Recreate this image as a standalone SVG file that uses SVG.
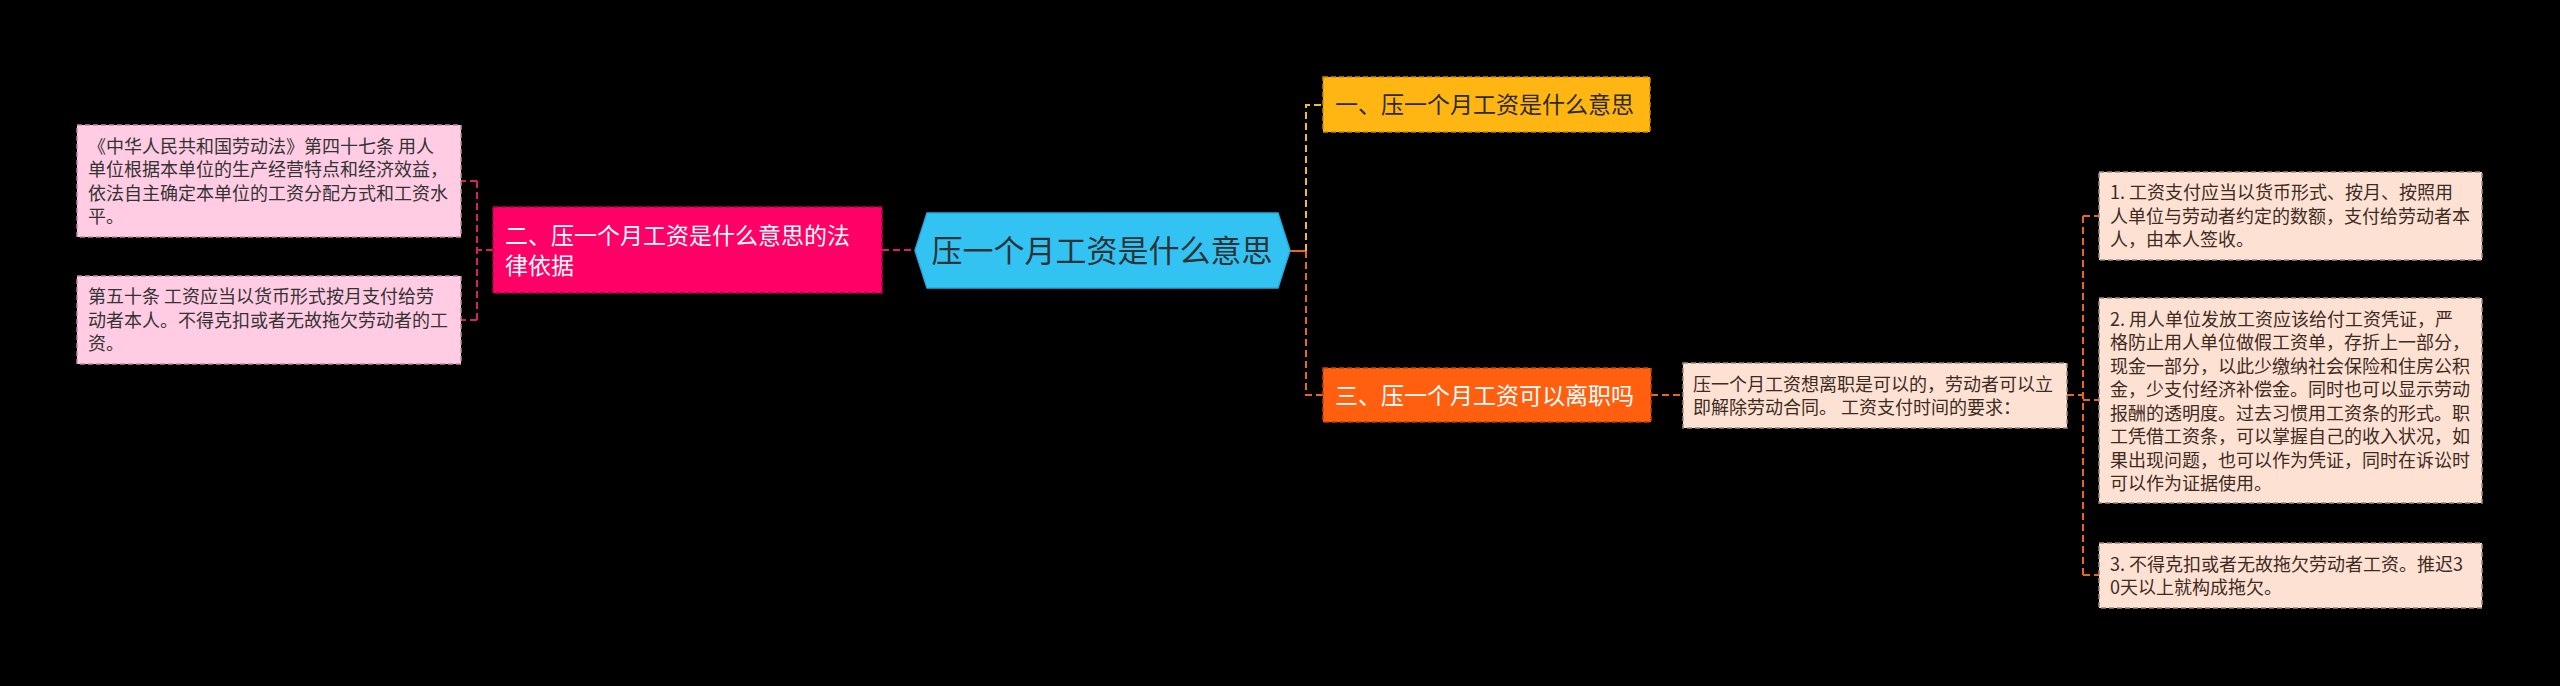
<svg xmlns="http://www.w3.org/2000/svg" width="2560" height="686" viewBox="0 0 2560 686">
<style>
text{font-family:"Noto Sans CJK SC","Microsoft YaHei",sans-serif;}
.t18{font-size:18px;}
.t23{font-size:23px;}
.pink rect{fill:#FFCCE4;stroke:#B98A9E;stroke-width:1.5;stroke-dasharray:5 3;}
.pink text{fill:#333333;}
.peach rect{fill:#FDE2D4;stroke:#9C8A80;stroke-width:1.5;stroke-dasharray:5 3;}
.peach text{fill:#3D2B1F;}
.conn path{fill:none;stroke-width:2;stroke-dasharray:7 4;}
.cm{stroke:#D81E66;}
.cy{stroke:#F2C01E;}
.co{stroke:#E8661E;}
</style>
<rect x="0" y="0" width="2560" height="686" fill="#000000"/>
<g id="connectors" class="conn">
<path class="cm" d="M882,250 L915,250"/>
<path class="cm" d="M493,250 L477,250 M477,181 L477,320 M477,181 L461,181 M477,320 L461,320"/>
<path class="co" d="M1290,251 L1306,251" style="stroke-dasharray:none"/>
<path class="cy" d="M1306,251 L1306,105 L1323,105"/>
<path class="co" d="M1306,251 L1306,395 L1323,395"/>
<path class="co" d="M1651,395 L1683,395"/>
<path class="co" d="M2067,395 L2083,395 M2083,216 L2083,575 M2083,216 L2099,216 M2083,400 L2099,400 M2083,575 L2099,575"/>
</g>
<g id="root">
<polygon points="915,250.5 927,213 1278,213 1290,250.5 1278,288 927,288" fill="#33C3F3" stroke="#2AA9DA" stroke-width="1.5"/>
<text x="1102" y="262" font-size="31" fill="#2E3338" text-anchor="middle">压一个月工资是什么意思</text>
</g>
<g id="n2">
<rect x="493" y="207" width="389" height="86" fill="#FF0066" stroke="#B8004A" stroke-width="1.5" stroke-dasharray="5 3"/>
<text class="t23" x="505" y="244" fill="#FFFFFF">二、压一个月工资是什么意思的法</text>
<text class="t23" x="505" y="274" fill="#FFFFFF">律依据</text>
</g>
<g id="n2a" class="pink">
<rect x="77" y="125" width="384" height="112"/>
<text class="t18" x="88" y="152.5">《中华人民共和国劳动法》第四十七条 用人</text>
<text class="t18" x="88" y="176">单位根据本单位的生产经营特点和经济效益，</text>
<text class="t18" x="88" y="199.5">依法自主确定本单位的工资分配方式和工资水</text>
<text class="t18" x="88" y="223">平。</text>
</g>
<g id="n2b" class="pink">
<rect x="77" y="276" width="384" height="88"/>
<text class="t18" x="88" y="303.3">第五十条 工资应当以货币形式按月支付给劳</text>
<text class="t18" x="88" y="326.8">动者本人。不得克扣或者无故拖欠劳动者的工</text>
<text class="t18" x="88" y="350.3">资。</text>
</g>
<g id="n1">
<rect x="1323" y="77" width="327" height="55" fill="#FFB612" stroke="#C98D00" stroke-width="1.5" stroke-dasharray="5 3"/>
<text class="t23" x="1335" y="113" fill="#2E2A22">一、压一个月工资是什么意思</text>
</g>
<g id="n3">
<rect x="1323" y="368" width="328" height="54" fill="#FF5F0F" stroke="#C44300" stroke-width="1.5" stroke-dasharray="5 3"/>
<text class="t23" x="1335" y="403.5" fill="#FFFFFF">三、压一个月工资可以离职吗</text>
</g>
<g id="n3a" class="peach">
<rect x="1683" y="363" width="384" height="65"/>
<text class="t18" x="1693" y="390.5">压一个月工资想离职是可以的，劳动者可以立</text>
<text class="t18" x="1693" y="414">即解除劳动合同。 工资支付时间的要求：</text>
</g>
<g id="n3a1" class="peach">
<rect x="2099" y="172" width="383" height="88"/>
<text class="t18" x="2110" y="199.3">1. 工资支付应当以货币形式、按月、按照用</text>
<text class="t18" x="2110" y="222.8">人单位与劳动者约定的数额，支付给劳动者本</text>
<text class="t18" x="2110" y="246.3">人，由本人签收。</text>
</g>
<g id="n3a2" class="peach">
<rect x="2099" y="298" width="383" height="205"/>
<text class="t18" x="2110" y="325.5">2. 用人单位发放工资应该给付工资凭证，严</text>
<text class="t18" x="2110" y="349">格防止用人单位做假工资单，存折上一部分，</text>
<text class="t18" x="2110" y="372.5">现金一部分，以此少缴纳社会保险和住房公积</text>
<text class="t18" x="2110" y="396">金，少支付经济补偿金。同时也可以显示劳动</text>
<text class="t18" x="2110" y="419.5">报酬的透明度。过去习惯用工资条的形式。职</text>
<text class="t18" x="2110" y="443">工凭借工资条，可以掌握自己的收入状况，如</text>
<text class="t18" x="2110" y="466.5">果出现问题，也可以作为凭证，同时在诉讼时</text>
<text class="t18" x="2110" y="490">可以作为证据使用。</text>
</g>
<g id="n3a3" class="peach">
<rect x="2099" y="543" width="383" height="65"/>
<text class="t18" x="2110" y="570.5">3. 不得克扣或者无故拖欠劳动者工资。推迟3</text>
<text class="t18" x="2110" y="594">0天以上就构成拖欠。</text>
</g>
</svg>
